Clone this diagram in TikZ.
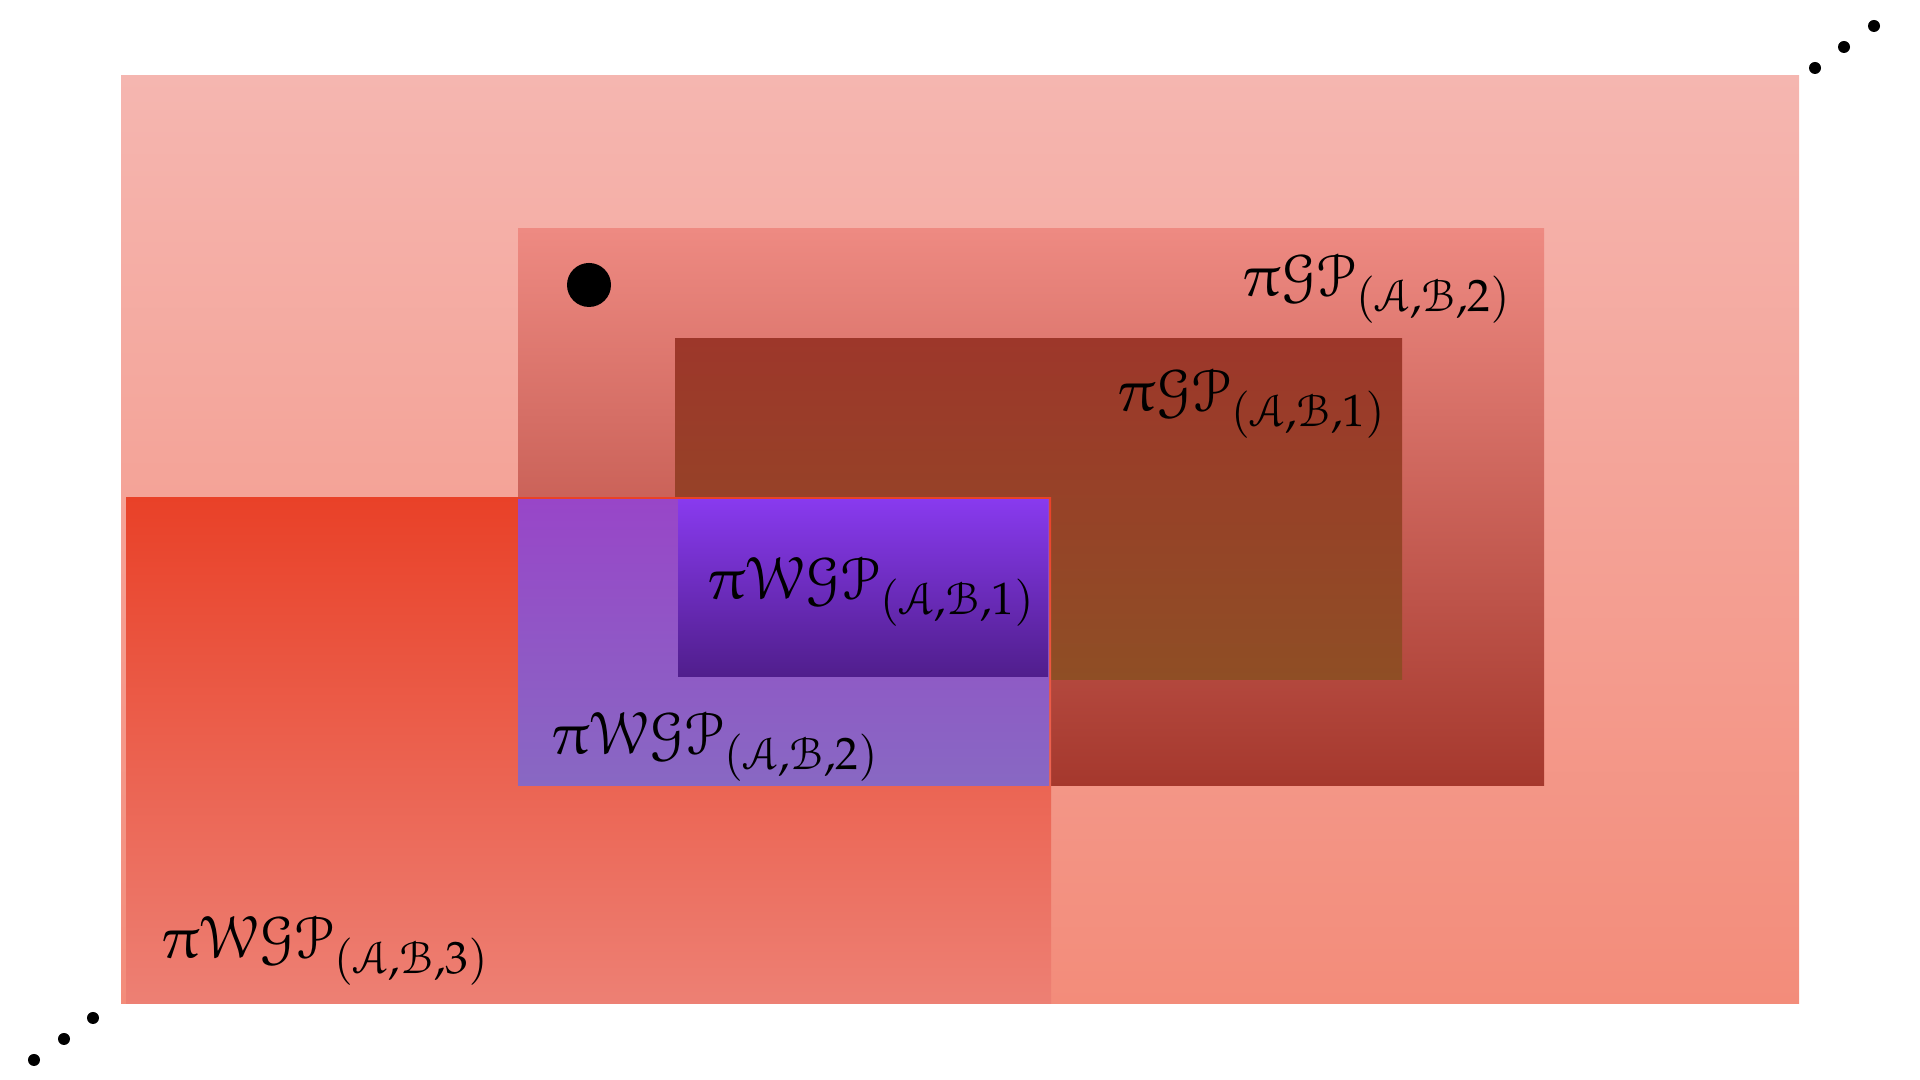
\documentclass[tikz,border=0pt]{standalone}
\usepackage{mathpazo}
\usepackage[mathcal]{eucal}
\DeclareSymbolFont{eulerletters}{U}{eur}{m}{n}
\DeclareMathSymbol{\epi}{\mathord}{eulerletters}{"19}
\tikzset{
  lbl/.style={anchor=base west, inner sep=0pt, font=\fontsize{17}{20}\selectfont},
  bigdot/.style={fill=black},
}
\definecolor{outT}{RGB}{245,182,176}
\definecolor{outB}{RGB}{243,140,122}
\definecolor{gpbT}{RGB}{238,138,130}
\definecolor{gpbM}{RGB}{200,92,78}
\definecolor{gpbB}{RGB}{165,56,45}
\definecolor{gpaT}{RGB}{157,55,42}
\definecolor{gpaB}{RGB}{143,78,37}
\definecolor{wcT}{RGB}{233,65,40}
\definecolor{wcB}{RGB}{237,128,116}
\definecolor{wbT}{RGB}{152,70,200}
\definecolor{wbB}{RGB}{136,104,195}
\definecolor{waT}{RGB}{136,58,238}
\definecolor{waB}{RGB}{80,30,140}
\begin{document}
\begin{tikzpicture}[x=0.01cm,y=0.01cm]
\useasboundingbox (0,0) rectangle (1920,1080);
% outer
\shade[top color=outT, bottom color=outB] (121,76) rectangle (1799,1004);
% GP2
\shade[top color=gpbT, middle color=gpbM, bottom color=gpbB] (518,294) rectangle (1544,851);
% GP1
\shade[top color=gpaT, bottom color=gpaB] (675,400) rectangle (1402,741);
% WGP3
\shade[top color=wcT, bottom color=wcB] (126,76) rectangle (1051,582);
% WGP2
\shade[top color=wbT, bottom color=wbB] (518,294) rectangle (1049,580);
% WGP1
\shade[top color=waT, bottom color=waB] (678,403) rectangle (1048,580);
% point
\fill[bigdot] (589,795) circle (22);
% ellipsis dots
\fill[bigdot] (1815,1012) circle (6);
\fill[bigdot] (1844,1033) circle (6);
\fill[bigdot] (1874,1054) circle (6);
\fill[bigdot] (34,20) circle (6);
\fill[bigdot] (64,41) circle (6);
\fill[bigdot] (93,62) circle (6);
% labels
\node[lbl] (lgp2) at (1243,783) {$\epi\mathcal{GP}_{(\mathcal{A},\mathcal{B},2)}$};
\node[lbl] (lgp1) at (1118,668) {$\epi\mathcal{GP}_{(\mathcal{A},\mathcal{B},1)}$};
\node[lbl] (lw1) at (708,480) {$\epi\mathcal{WGP}_{(\mathcal{A},\mathcal{B},1)}$};
\node[lbl] (lw2) at (552,325) {$\epi\mathcal{WGP}_{(\mathcal{A},\mathcal{B},2)}$};
\node[lbl] (lw3) at (162,121) {$\epi\mathcal{WGP}_{(\mathcal{A},\mathcal{B},3)}$};
\end{tikzpicture}
\end{document}
